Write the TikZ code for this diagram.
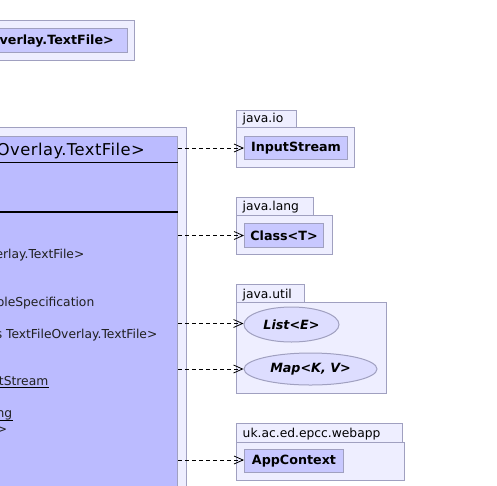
\documentclass[tikz,border=0pt]{standalone}
\usepackage{fontspec}
\setmainfont{DejaVu Sans}
\newfontfamily\titlefont[LetterSpace=3.0]{DejaVu Sans}
\usetikzlibrary{arrows.meta,shapes.geometric}
\definecolor{pkgfill}{HTML}{EEEEFF}
\definecolor{bigfill}{HTML}{BBBBFF}
\definecolor{clsfill}{HTML}{C8C8FF}
\definecolor{ellfill}{HTML}{DDDDFF}
\definecolor{edge}{HTML}{A0A0C0}
\definecolor{attrtext}{HTML}{202020}
\tikzset{
  pkgbox/.style={draw=edge, fill=pkgfill, line width=1pt},
  clsbox/.style={draw=edge, fill=clsfill, line width=1pt, rectangle, anchor=north west, inner sep=0pt,
    font=\fontsize{12.7}{14}\selectfont\bfseries},
  ellbox/.style={draw=edge, fill=ellfill, line width=1pt, ellipse, inner sep=0pt,
    font=\fontsize{12.7}{14}\selectfont\bfseries\itshape},
  pkglabel/.style={anchor=base west, inner sep=0pt, font=\fontsize{12.3}{14}\selectfont},
  attr/.style={anchor=base east, inner sep=0pt, text=attrtext, font=\fontsize{12.3}{15}\selectfont},
  dep/.style={draw=black, line width=0.8pt, dash pattern=on 4pt off 3pt,
    -{Straight Barb[length=9pt,width=8pt,line width=0.8pt]}}
}
\begin{document}
\begin{tikzpicture}[x=1pt,y=-1pt]
\useasboundingbox (0,0) rectangle (497,485);
\clip (0,0) rectangle (497,485);

% top partial box
\draw[pkgbox] (-20,20.3) rectangle (134.7,60.3);
\node[clsbox, minimum width=146.7pt, minimum height=24.3pt] (topcls) at (-20,28) {};
\node[anchor=base east, inner sep=0pt, font=\fontsize{12.7}{14}\selectfont\bfseries] (toptxt) at (114,44) {verlay.TextFile>};

% big class package and class
\draw[pkgbox] (-30,127) rectangle (186,520);
\node[draw=edge, fill=bigfill, line width=1.2pt, rectangle, anchor=north east, inner sep=0pt,
  minimum width=220pt, minimum height=390pt] (big) at (178.3,136) {};
\draw[black, line width=1pt] (-30,162) -- (177.7,162);
\draw[black, line width=1.6pt] (-30,212) -- (177.7,212);
\node[anchor=base east, inner sep=0pt, font=\titlefont\fontsize{16.3}{18}\selectfont] (title) at (145,155) {Overlay.TextFile>};
\node[attr] (a1) at (84.5,258) {erlay.TextFile>};
\node[attr] (a2) at (94.5,306) {ableSpecification};
\node[attr] (a3) at (157.5,338) {s TextFileOverlay.TextFile>};
\node[attr] (a4) at (48.5,385) {tStream};
\draw[black, line width=0.8pt] ([yshift=-2.8pt]a4.base west) -- ([yshift=-2.8pt]a4.base east);
\node[attr] (a5) at (12.5,417) {ng};
\draw[black, line width=0.8pt] ([yshift=-3pt]a5.base west) -- ([yshift=-3pt]a5.base east);
\node[attr] (a6) at (7.5,433) {>};

% java.io
\draw[pkgbox] (236,110) rectangle (296,127);
\draw[pkgbox] (236,127) rectangle (354,167);
\node[pkglabel] (lio) at (242.5,122) {java.io};
\node[clsbox, minimum width=103pt, minimum height=23pt] (is) at (244,136) {InputStream};

% java.lang
\draw[pkgbox] (236,197) rectangle (313,215);
\draw[pkgbox] (236,215) rectangle (332,254);
\node[pkglabel] (llang) at (242.5,210) {java.lang};
\node[clsbox, minimum width=79pt, minimum height=24pt] (cl) at (244,223) {Class<T>};

% java.util
\draw[pkgbox] (236,284) rectangle (304,302);
\draw[pkgbox] (236,302) rectangle (386,393);
\node[pkglabel] (lutil) at (242.5,298) {java.util};
\node[ellbox, minimum width=95pt, minimum height=35pt] (li) at (291.5,324.5) {List<E>};
\node[ellbox, minimum width=133pt, minimum height=32pt] (mp) at (310.5,369) {Map<K, V>};

% webapp
\draw[pkgbox] (236,423) rectangle (402,442);
\draw[pkgbox] (236,442) rectangle (404,480);
\node[pkglabel] (lweb) at (242.5,437) {uk.ac.ed.epcc.webapp};
\node[clsbox, minimum width=99pt, minimum height=23pt] (ac) at (244,449) {AppContext};

% dependencies
\draw[dep] (is.west -| big.east) -- (is.west);
\draw[dep] (cl.west -| big.east) -- (cl.west);
\draw[dep] ([yshift=1pt]li.west -| big.east) -- ([yshift=1pt]li.west);
\draw[dep] (mp.west -| big.east) -- (mp.west);
\draw[dep] ([yshift=1pt]ac.west -| big.east) -- ([yshift=1pt]ac.west);
\end{tikzpicture}
\end{document}
